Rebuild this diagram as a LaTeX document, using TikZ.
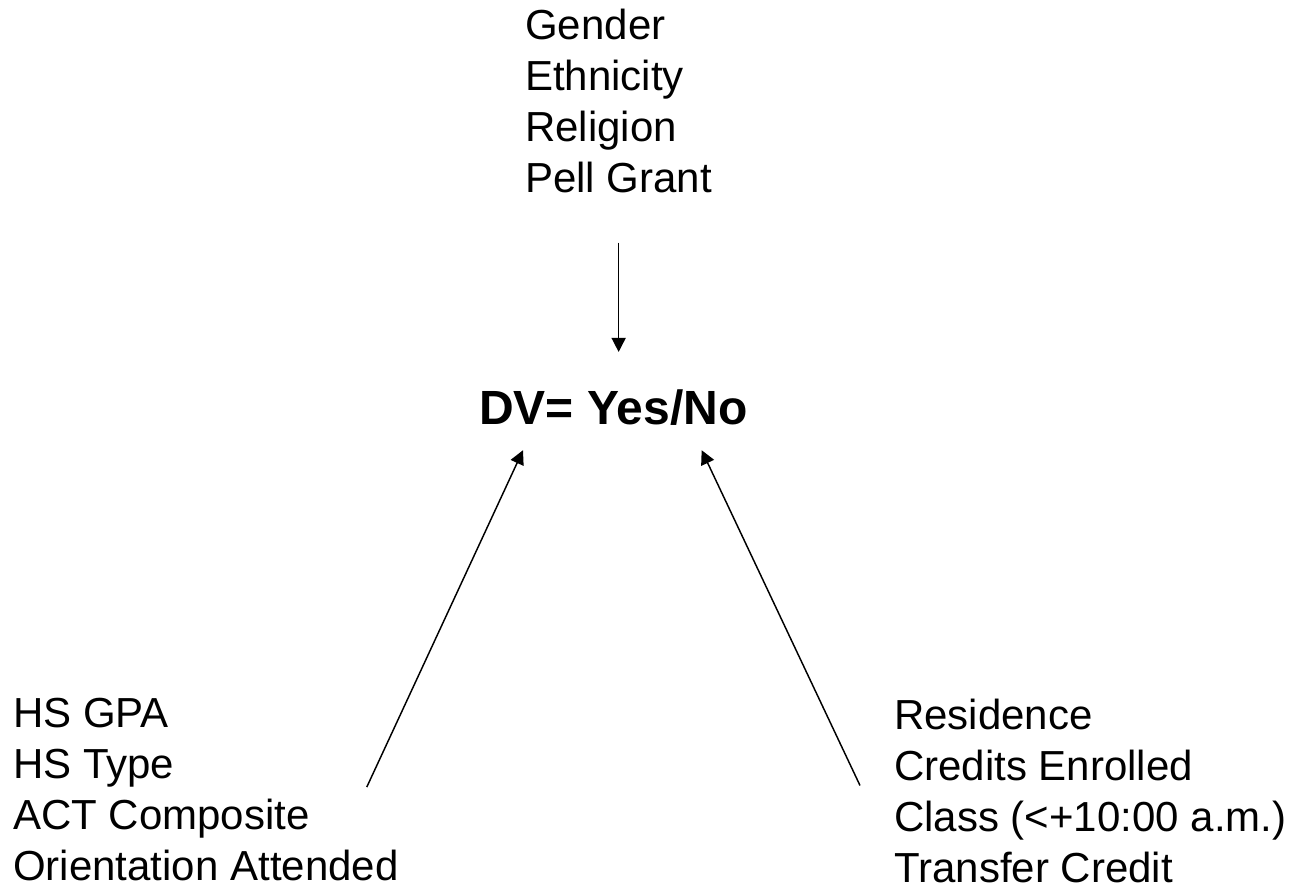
\documentclass[tikz,border=0pt]{standalone}
\usepackage{fontspec}
\setmainfont{Liberation Sans}
\usepackage{tikz}
\usetikzlibrary{positioning, arrows.meta, calc}

\begin{document}
\begin{tikzpicture}[
  x=0.75pt, y=-0.75pt,
  vars/.style={align=left, inner sep=0pt, anchor=base west,
               font=\fontsize{31.5pt}{38.25pt}\selectfont},
  dvbox/.style={inner sep=0pt, anchor=base west,
                font=\fontsize{36pt}{42pt}\selectfont\bfseries},
  arr/.style={-{Triangle[length=10.5pt, width=10.5pt]}, line width=1.1pt}
]
  \useasboundingbox (0,0) rectangle (1299,887);

  %% Variable groups (positioned by the baseline of their last line)
  \node[vars] (demo)  at (525,193) {Gender\\Ethnicity\\Religion\\Pell Grant};
  \node[vars] (prior) at (13,880)  {HS GPA\\HS Type\\ACT Composite\\Orientation Attended};
  \node[vars] (enrol) at (894,882) {Residence\\Credits Enrolled\\Class (<+10:00 a.m.)\\Transfer Credit};
  %% Outcome
  \node[dvbox] (dv) at (479,425) {DV= Yes/No};

  %% Demographics --> DV (straight down)
  \draw[arr, shorten <=36.75pt, shorten >=28.5pt] (demo.south) -- (demo.south |- dv.north);
  %% Prior preparation --> DV
  \draw[arr] ($(prior.east)+(-32,-2)$) -- ($(dv.south west)+(44,24)$);
  %% Enrollment --> DV
  \draw[arr] ($(enrol.west)+(-34,-5)$) -- ($(dv.south east)+(-46,24)$);
\end{tikzpicture}
\end{document}
